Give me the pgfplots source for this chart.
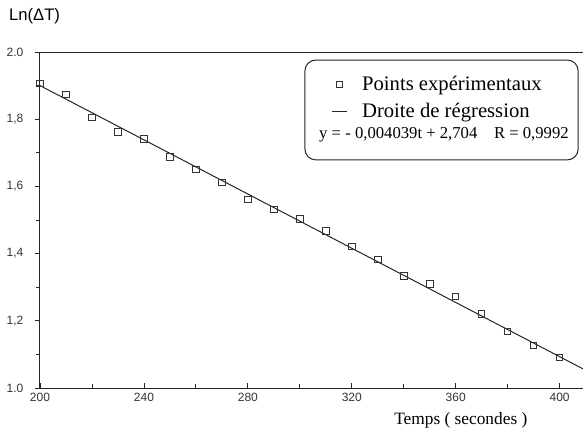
\documentclass[border=0pt]{standalone}
\usepackage{fontspec}
\setmainfont{Liberation Serif}
\newfontfamily\ticksf{Liberation Sans}
\usepackage{pgfplots}
\pgfplotsset{compat=1.18}
\pgfplotsset{
  shortline/.style={legend image code/.code={\draw[##1] (0.1cm,0cm) -- (0.5cm,0cm); \path (0cm,0cm) (0.81cm,0cm);}},
  marklegend/.style={legend image code/.code={\draw[mark repeat=1,mark phase=1,##1] plot coordinates {(0.3cm,0cm)}; \path (0cm,0cm) (0.81cm,0cm);}},
}
\begin{document}
\begin{tikzpicture}
\begin{axis}[
  scale only axis, width=407.25pt, height=252pt,
  xmin=200, xmax=409, ymin=1.0, ymax=2.0,
  axis x line*=bottom, axis y line*=left,
  axis line style={line width=0.75pt, color=black!85},
  xtick={200,240,280,320,360,400}, minor xtick={220,260,300,340,380},
  ytick={1,1.2,1.4,1.6,1.8,2}, minor ytick={1.1,1.3,1.5,1.7,1.9},
  xticklabels={200,240,280,320,360,400},
  yticklabels={{1.0},{1,2},{1,4},{1,6},{1,8},{2.0}},
  tick label style={font=\ticksf\fontsize{9}{10}\selectfont, color=black!80},
  yticklabel style={xshift=-5pt},
  /pgf/number format/assume math mode=true,
  major tick length=4pt, minor tick length=3pt,
  tick style={line width=0.6pt, color=black!85},
  xtick align=inside, ytick align=outside,
  legend style={draw=none, fill=none, at={(rel axis cs:0.522,0.945)}, anchor=north west,
    font=\fontsize{15.5}{17}\selectfont, row sep=4pt, legend cell align=left},
  clip=false,
]
\addplot[only marks, mark=square, mark size=2.4pt, mark options={line width=0.6pt, draw=black!80}, marklegend]
coordinates {
(200,1.906)(210,1.874)(220,1.806)(230,1.762)(240,1.741)(250,1.688)
(260,1.650)(270,1.612)(280,1.562)(290,1.532)(300,1.503)(310,1.468)
(320,1.421)(330,1.382)(340,1.334)(350,1.310)(360,1.272)(370,1.221)
(380,1.168)(390,1.126)(400,1.091)
};
\addlegendentry{Points expérimentaux}
\addplot[black!85, line width=0.75pt, shortline]
coordinates {(200,1.900)(409,1.057)};
\addlegendentry{Droite de régression}
\draw[line width=0.75pt, black!85] (rel axis cs:0,1) -- (rel axis cs:1,1);
\coordinate (O) at (rel axis cs:0,0);
\draw[rounded corners=8pt, line width=0.75pt, black!85] (rel axis cs:0.488,0.976) rectangle (rel axis cs:0.991,0.679);
\node[font=\fontsize{12.5}{15}\selectfont, anchor=center] at (rel axis cs:0.744,0.755) {y = - 0,004039t + 2,704\quad R = 0,9992};
\node[font=\ticksf\fontsize{12.5}{14}\selectfont, anchor=center] at (rel axis cs:-0.01,1.107) {Ln(ΔT)};
\node[font=\fontsize{13}{15}\selectfont, anchor=center] at (rel axis cs:0.775,-0.097) {Temps ( secondes )};
\end{axis}
\pgfresetboundingbox
\path (O) ++(-30pt,-33.75pt) rectangle ++(437.25pt,324.75pt);
\end{tikzpicture}
\end{document}
